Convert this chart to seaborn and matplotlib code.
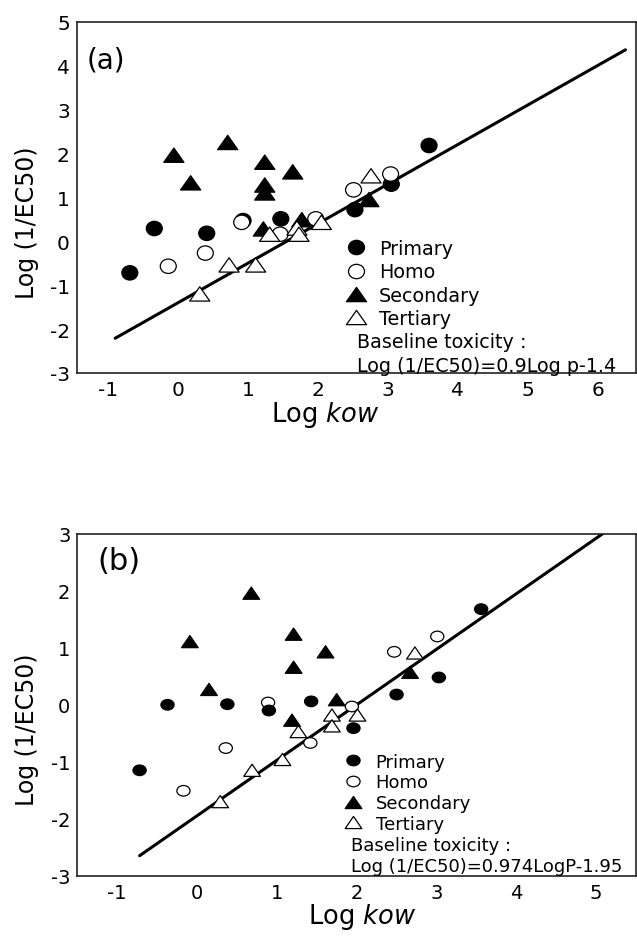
import matplotlib
matplotlib.use("Agg")
import matplotlib.pyplot as plt
import pandas as pd
import seaborn as sns
from matplotlib.path import Path
from matplotlib.transforms import Affine2D

# ---------------- panel (a) ----------------
a_primary_x = [-0.69, -0.34, 0.41, 0.93, 1.47, 2.53, 3.05, 3.59]
a_primary_y = [-0.72, 0.29, 0.18, 0.47, 0.51, 0.72, 1.30, 2.18]
a_homo_x = [-0.14, 0.39, 0.91, 1.46, 1.97, 2.51, 3.04]
a_homo_y = [-0.57, -0.27, 0.43, 0.16, 0.51, 1.17, 1.53]
a_secondary_x = [-0.06, 0.71, 0.18, 1.24, 1.24, 1.24, 1.64, 1.22, 1.77, 2.73]
a_secondary_y = [1.96, 2.25, 1.33, 1.80, 1.28, 1.10, 1.58, 0.28, 0.49, 0.95]
a_tertiary_x = [0.31, 0.73, 1.11, 1.31, 1.70, 1.73, 2.05, 2.76]
a_tertiary_y = [-1.20, -0.54, -0.54, 0.16, 0.30, 0.16, 0.43, 1.49]
a_base_x = [-0.9, 6.4]
a_base_y = [-2.21, 4.36]
a_equation = "Log (1/EC50)=0.9Log p-1.4"

# ---------------- panel (b) ----------------
b_primary_x = [-0.72, -0.37, 0.38, 0.90, 1.43, 1.96, 2.50, 3.03, 3.56]
b_primary_y = [-1.15, 0.00, 0.01, -0.10, 0.06, -0.41, 0.18, 0.48, 1.68]
b_homo_x = [-0.17, 0.36, 0.89, 1.42, 1.94, 2.47, 3.01]
b_homo_y = [-1.51, -0.76, 0.04, -0.67, -0.03, 0.93, 1.20]
b_secondary_x = [-0.09, 0.15, 0.68, 1.19, 1.21, 1.21, 1.61, 1.75, 2.67]
b_secondary_y = [1.11, 0.27, 1.96, -0.27, 1.24, 0.66, 0.93, 0.09, 0.57]
b_tertiary_x = [0.29, 0.69, 1.07, 1.27, 1.69, 1.69, 2.01, 2.73]
b_tertiary_y = [-1.70, -1.15, -0.96, -0.47, -0.18, -0.37, -0.18, 0.91]
b_base_x = [-0.72, 5.13]
b_base_y = [-2.65, 3.05]
b_equation = "Log (1/EC50)=0.974LogP-1.95"

GROUPS = ["Primary", "Homo", "Secondary", "Tertiary"]
FACE = {"Primary": "black", "Homo": "white", "Secondary": "black", "Tertiary": "white"}


def _squash(path, sy):
    # the original figure is stretched sideways, so markers are wider than tall
    return path.transformed(Affine2D().scale(1.0, sy))


TRIANGLE = Path([(0, 1), (-1, -1), (1, -1), (0, 1)], closed=True)


def _frame(groups, order):
    rows = []
    for name, xs, ys in groups:
        rows += [(name, x, y) for x, y in zip(xs, ys)]
    df = pd.DataFrame(rows, columns=["group", "logkow", "tox"])
    df["group"] = pd.Categorical(df["group"], categories=order)
    return df.sort_values("group", kind="stable")


def draw_panel(ax, df, base_x, base_y, xlim, ylim, xticks, yticks, tag, eq, st):
    circ = _squash(Path.unit_circle(), st["circ_ratio"])
    tri = _squash(TRIANGLE, st["tri_ratio"])
    markers = {"Primary": circ, "Homo": circ, "Secondary": tri, "Tertiary": tri}
    sizes = {"Primary": st["circ"] ** 2, "Homo": st["circ"] ** 2,
             "Secondary": st["tri"] ** 2, "Tertiary": st["tri"] ** 2}

    sns.lineplot(x=base_x, y=base_y, ax=ax, color="black", lw=2.2,
                 estimator=None, sort=False, legend=False, zorder=1)
    sns.scatterplot(data=df, x="logkow", y="tox", hue="group", style="group", size="group",
                    hue_order=GROUPS, style_order=GROUPS, size_order=GROUPS,
                    palette=FACE, markers=markers, sizes=sizes,
                    edgecolor="black", linewidth=0.9, legend=False, ax=ax, zorder=3)

    ax.set_xlim(*xlim)
    ax.set_ylim(*ylim)
    ax.set_xticks(xticks)
    ax.set_yticks(yticks)
    ax.tick_params(length=0, labelsize=st["tick"], pad=5, colors="black")
    for sp in ax.spines.values():
        sp.set_visible(True)
        sp.set_color("#222222")
        sp.set_linewidth(1.2)

    ax.set_xlabel(r"Log $\mathit{kow}$", fontsize=st["label"], color="black")
    ax.set_ylabel("Log (1/EC50)", fontsize=st["label"] - 1.5, color="black")
    ax.xaxis.set_label_coords(st["xlab"][0], st["xlab"][1])
    ax.yaxis.set_label_coords(st["ylab"][0], st["ylab"][1])

    ax.text(st["tag"][0], st["tag"][1], tag, transform=ax.transAxes,
            fontsize=st["tag_size"], ha="left", va="center", color="black")

    # hand-built legend, matching the layout of the original
    for name, my, ty in zip(GROUPS, st["leg_marker_y"], st["leg_text_y"]):
        ax.plot([st["leg_marker_x"]], [my], transform=ax.transAxes, linestyle="none",
                marker=markers[name], markersize=st["circ"] if name in ("Primary", "Homo") else st["tri"],
                markerfacecolor=FACE[name], markeredgecolor="black", markeredgewidth=0.9,
                clip_on=False)
        ax.text(st["leg_text_x"], ty, name, transform=ax.transAxes,
                fontsize=st["leg_size"], ha="left", va="baseline", color="black")
    ax.text(st["base_x"], st["base_y"][0], "Baseline toxicity :", transform=ax.transAxes,
            fontsize=st["leg_size"], ha="left", va="baseline", color="black")
    ax.text(st["base_x"], st["base_y"][1], eq, transform=ax.transAxes,
            fontsize=st["leg_size"], ha="left", va="baseline", color="black")


sns.set_style("white")
plt.rcParams["font.family"] = ["DejaVu Sans"]
plt.rcParams["mathtext.fontset"] = "dejavusans"
plt.rcParams["axes.unicode_minus"] = False
plt.rcParams["text.color"] = "black"
plt.rcParams["axes.labelcolor"] = "black"

fig = plt.figure(figsize=(6.37, 9.37), dpi=100)
ax_a = fig.add_axes([0.1204, 0.6009, 0.878, 0.3749])
ax_b = fig.add_axes([0.1214, 0.0644, 0.877, 0.3647])

df_a = _frame([("Primary", a_primary_x, a_primary_y), ("Homo", a_homo_x, a_homo_y),
               ("Secondary", a_secondary_x, a_secondary_y), ("Tertiary", a_tertiary_x, a_tertiary_y)],
              ["Primary", "Secondary", "Homo", "Tertiary"])
df_b = _frame([("Primary", b_primary_x, b_primary_y), ("Homo", b_homo_x, b_homo_y),
               ("Secondary", b_secondary_x, b_secondary_y), ("Tertiary", b_tertiary_x, b_tertiary_y)],
              ["Homo", "Tertiary", "Primary", "Secondary"])

style_a = dict(circ=11.5, tri=14.5, circ_ratio=0.9, tri_ratio=0.71, tick=14.5, label=18.5,
               xlab=(0.4445, -0.073), ylab=(-0.0674, 0.43), tag=(0.018, 0.893), tag_size=20,
               leg_marker_x=0.500, leg_text_x=0.540, base_x=0.501, leg_size=13.8,
               leg_marker_y=[0.358, 0.291, 0.225, 0.158],
               leg_text_y=[0.339, 0.272, 0.206, 0.140], base_y=[0.073, 0.0057])
style_b = dict(circ=9.5, tri=12.0, circ_ratio=0.8, tri_ratio=0.73, tick=14.0, label=18.5,
               xlab=(0.5105, -0.075), ylab=(-0.0686, 0.43), tag=(0.036, 0.921), tag_size=22,
               leg_marker_x=0.493, leg_text_x=0.534, base_x=0.490, leg_size=13.0,
               leg_marker_y=[0.337, 0.276, 0.216, 0.156],
               leg_text_y=[0.318, 0.258, 0.198, 0.137], base_y=[0.076, 0.015])

draw_panel(ax_a, df_a, a_base_x, a_base_y, (-1.45, 6.55), (-3, 5), range(-1, 7), range(-3, 6),
           "(a)", a_equation, style_a)
draw_panel(ax_b, df_b, b_base_x, b_base_y, (-1.5, 5.5), (-3, 3), range(-1, 6), range(-3, 4),
           "(b)", b_equation, style_b)

fig.savefig("out.png", dpi=100)
plt.close(fig)
